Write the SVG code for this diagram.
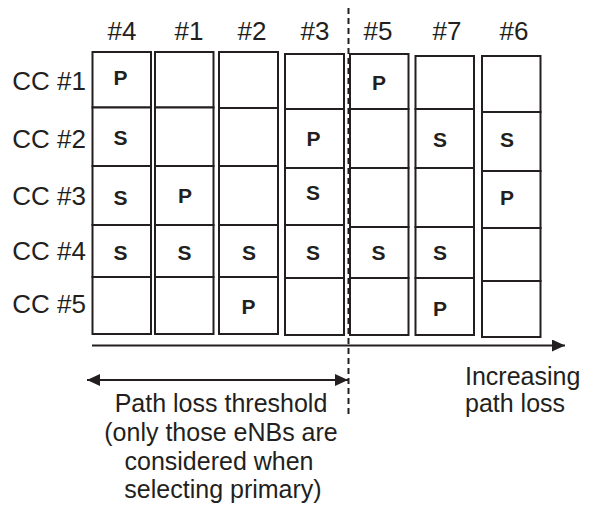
<svg xmlns="http://www.w3.org/2000/svg" width="589" height="512" viewBox="0 0 589 512">
<style>
.c{fill:#fff;stroke:#231f20;stroke-width:2}
.t{font-family:"Liberation Sans",Arial,sans-serif;font-size:26px;fill:#231f20}
.s{font-size:25px}
.m{text-anchor:middle}
.r{text-anchor:end}
.b{font-family:"Liberation Sans",Arial,sans-serif;font-size:21px;font-weight:bold;fill:#231f20;text-anchor:middle}
.ln{stroke:#231f20;stroke-width:2;fill:none}
</style>
<defs>
<marker id="ah" viewBox="0 0 13 12" refX="13" refY="6" markerWidth="13" markerHeight="12" markerUnits="userSpaceOnUse" orient="auto-start-reverse">
<path d="M0,0 L13,6 L0,12 Z" fill="#231f20"/>
</marker>
</defs>
<g id="headers">
<text class="t m" x="122" y="40">#4</text>
<text class="t m" x="189" y="40">#1</text>
<text class="t m" x="252" y="40">#2</text>
<text class="t m" x="315" y="40">#3</text>
<text class="t m" x="378" y="40">#5</text>
<text class="t m" x="447" y="40">#7</text>
<text class="t m" x="514" y="40">#6</text>
</g>
<g id="rowlabels">
<text class="t r" x="86" y="90">CC #1</text>
<text class="t r" x="86" y="148">CC #2</text>
<text class="t r" x="86" y="205">CC #3</text>
<text class="t r" x="86" y="260">CC #4</text>
<text class="t r" x="86" y="313">CC #5</text>
</g>
<g id="col4">
<rect class="c" x="92.5" y="52" width="58.5" height="55.5"/>
<rect class="c" x="92.5" y="107.5" width="58.5" height="58.5"/>
<rect class="c" x="92.5" y="166" width="58.5" height="59"/>
<rect class="c" x="92.5" y="225" width="58.5" height="52"/>
<rect class="c" x="92.5" y="277" width="58.5" height="57"/>
<text class="b" x="120.5" y="85">P</text>
<text class="b" x="120.5" y="145">S</text>
<text class="b" x="120.5" y="205">S</text>
<text class="b" x="120.5" y="260">S</text>
</g>
<g id="col1">
<rect class="c" x="155" y="52" width="58.5" height="55.5"/>
<rect class="c" x="155" y="107.5" width="58.5" height="58.5"/>
<rect class="c" x="155" y="166" width="58.5" height="59"/>
<rect class="c" x="155" y="225" width="58.5" height="52"/>
<rect class="c" x="155" y="277" width="58.5" height="57"/>
<text class="b" x="185" y="203">P</text>
<text class="b" x="184.5" y="260">S</text>
</g>
<g id="col2">
<rect class="c" x="219" y="52" width="59" height="56"/>
<rect class="c" x="219" y="108" width="59" height="58"/>
<rect class="c" x="219" y="166" width="59" height="59"/>
<rect class="c" x="219" y="225" width="59" height="52"/>
<rect class="c" x="219" y="277" width="59" height="57"/>
<text class="b" x="249" y="260">S</text>
<text class="b" x="248.5" y="314">P</text>
</g>
<g id="col3">
<rect class="c" x="285" y="54" width="59" height="55"/>
<rect class="c" x="285" y="109" width="59" height="59"/>
<rect class="c" x="285" y="168" width="59" height="57"/>
<rect class="c" x="285" y="225" width="59" height="53"/>
<rect class="c" x="285" y="278" width="59" height="57"/>
<text class="b" x="313.5" y="146">P</text>
<text class="b" x="313" y="200">S</text>
<text class="b" x="313" y="260">S</text>
</g>
<g id="col5">
<rect class="c" x="350" y="54" width="58.5" height="55"/>
<rect class="c" x="350" y="109" width="58.5" height="59"/>
<rect class="c" x="350" y="168" width="58.5" height="59"/>
<rect class="c" x="350" y="227" width="58.5" height="51"/>
<rect class="c" x="350" y="278" width="58.5" height="57"/>
<text class="b" x="379" y="90">P</text>
<text class="b" x="378.5" y="260">S</text>
</g>
<g id="col7">
<rect class="c" x="415.5" y="56" width="58.5" height="53"/>
<rect class="c" x="415.5" y="109" width="58.5" height="59"/>
<rect class="c" x="415.5" y="168" width="58.5" height="59"/>
<rect class="c" x="415.5" y="227" width="58.5" height="51"/>
<rect class="c" x="415.5" y="278" width="58.5" height="57"/>
<text class="b" x="440" y="147">S</text>
<text class="b" x="440" y="260">S</text>
<text class="b" x="440" y="316">P</text>
</g>
<g id="col6">
<rect class="c" x="482" y="56" width="58.5" height="56"/>
<rect class="c" x="482" y="112" width="58.5" height="59"/>
<rect class="c" x="482" y="171" width="58.5" height="57"/>
<rect class="c" x="482" y="228" width="58.5" height="53"/>
<rect class="c" x="482" y="281" width="58.5" height="56"/>
<text class="b" x="507" y="147">S</text>
<text class="b" x="507" y="205">P</text>
</g>
<g id="connectors">
<line class="ln" x1="348.5" y1="8" x2="348.5" y2="417" stroke-width="1.5" stroke-dasharray="6,4"/>
<line class="ln" x1="92" y1="345.5" x2="565" y2="345.5" marker-end="url(#ah)"/>
<line class="ln" x1="87" y1="380" x2="348" y2="380" marker-start="url(#ah)" marker-end="url(#ah)"/>
</g>
<g id="labels">
<text class="t s" x="465" y="385">Increasing</text>
<text class="t s" x="465" y="412">path loss</text>
<text class="t s m" x="221" y="412">Path loss threshold</text>
<text class="t s m" x="221" y="441">(only those eNBs are</text>
<text class="t s m" x="219" y="469.5">considered when</text>
<text class="t s m" x="223" y="498">selecting primary)</text>
</g>
</svg>
